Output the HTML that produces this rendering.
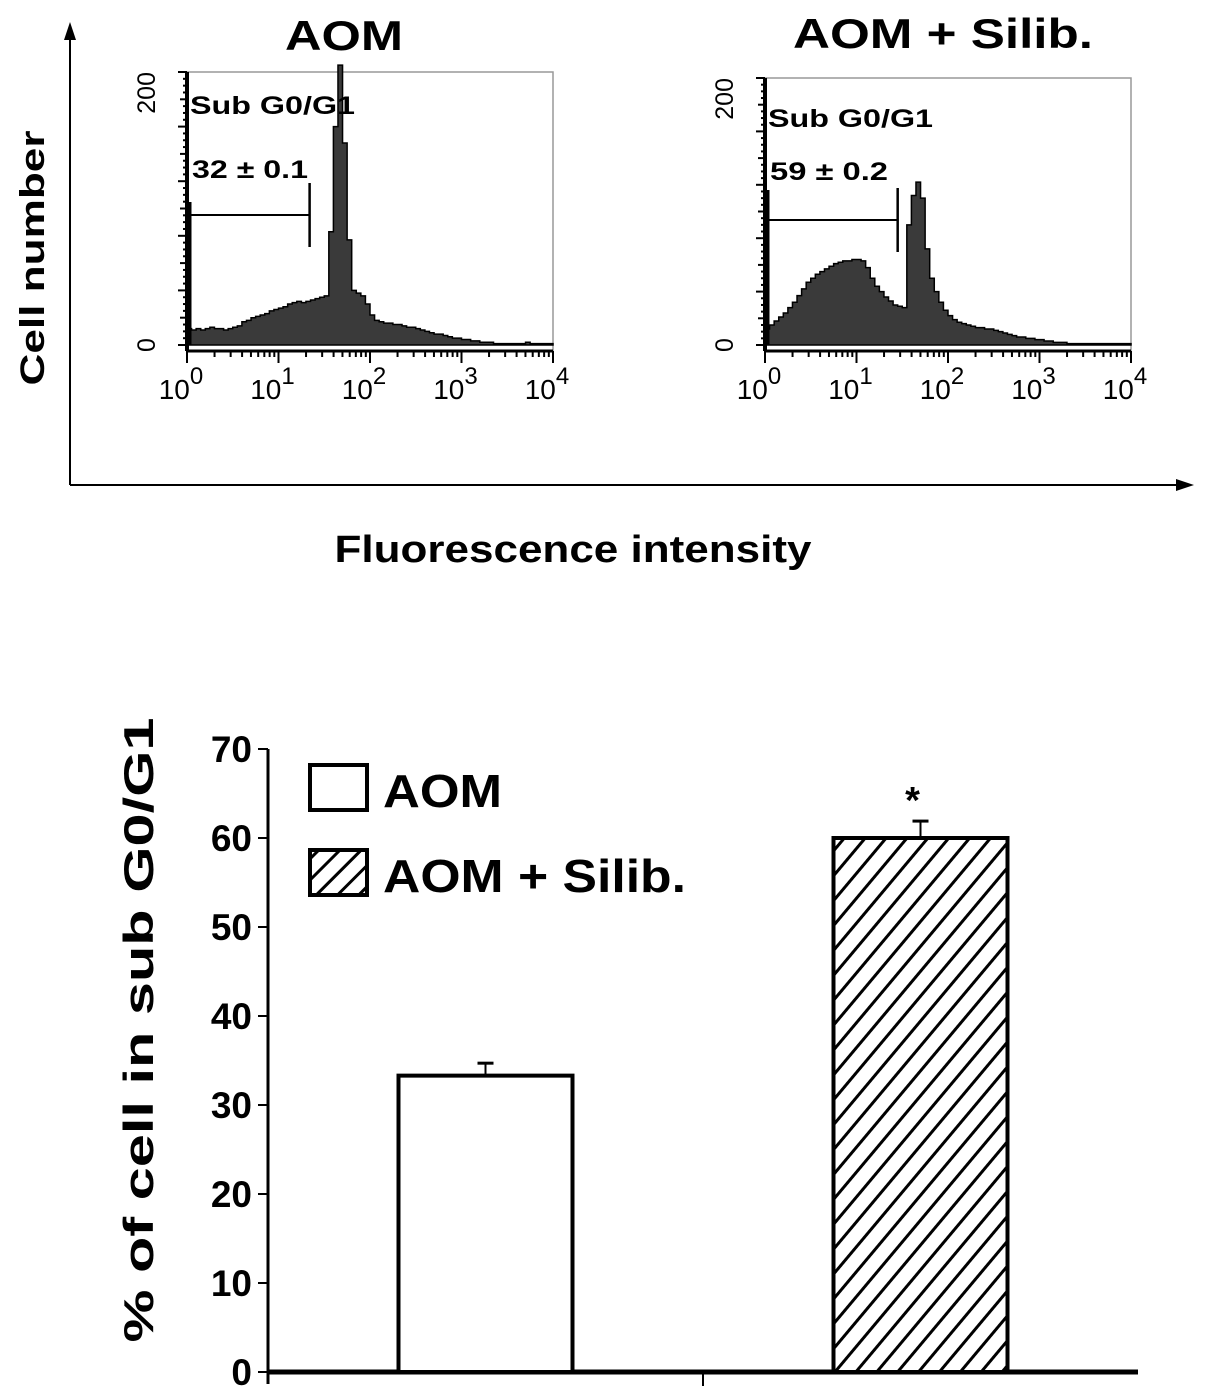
<!DOCTYPE html>
<html><head><meta charset="utf-8"><style>
body{margin:0;background:#fff}
svg{display:block;font-family:"Liberation Sans",Arial,sans-serif}
</style></head><body>
<svg id="fig" width="1205" height="1396" viewBox="0 0 1205 1396" xmlns="http://www.w3.org/2000/svg">
<defs>
<pattern id="hatch" patternUnits="userSpaceOnUse" width="16" height="16" patternTransform="rotate(40)">
<rect width="16" height="16" fill="#fff"/><line x1="0" y1="0" x2="0" y2="16" stroke="#000" stroke-width="6"/>
</pattern>
<pattern id="hatchL" patternUnits="userSpaceOnUse" width="15" height="15" patternTransform="rotate(45)">
<rect width="15" height="15" fill="#fff"/><line x1="0" y1="0" x2="0" y2="15" stroke="#000" stroke-width="6"/>
</pattern>
</defs>
<g id="top">
<line x1="70" y1="485" x2="70" y2="32" stroke="#000" stroke-width="2"/>
<polygon points="70,22 64,40 76,40" fill="#000"/>
<line x1="70" y1="485" x2="1180" y2="485" stroke="#000" stroke-width="2"/>
<polygon points="1194,485 1176,479 1176,491" fill="#000"/>
<text x="0" y="0" transform="translate(44,258) rotate(-90)" text-anchor="middle" font-size="34" font-weight="bold" textLength="255" lengthAdjust="spacingAndGlyphs">Cell number</text>
<text x="573" y="562" text-anchor="middle" font-size="38" font-weight="bold" textLength="477" lengthAdjust="spacingAndGlyphs">Fluorescence intensity</text>
<text x="344" y="50" text-anchor="middle" font-size="42" font-weight="bold" textLength="118" lengthAdjust="spacingAndGlyphs">AOM</text>
<text x="943" y="48" text-anchor="middle" font-size="42" font-weight="bold" textLength="300" lengthAdjust="spacingAndGlyphs">AOM + Silib.</text>
</g>
<g id="hists"></g>
<g id="bars"></g>
</svg>
<script>
// Histogram data: counts in log bins of width 0.05 decades from 10^0 to 10^4
const histBinWidth = 0.05;
const histAOM = [12,11,12,11,12,13,12,12,11,12, 13,14,17,18,20,21,22,23,25,26, 27,28,30,31,32,31,32,33,34,35, 36,83,160,205,148,77,40,38,36,30, 22,18,17,16,16,15,15,14,13,13, 12,11,10,9,8,8,7,6,5,5, 4,4,3,3,2,2,2,1,1,1, 1,1,1,1,2,1,1,1,1,1];
const histSilib = [12,15,18,21,24,28,32,37,42,47, 50,53,55,57,59,61,62,63,63,64, 64,63,58,50,44,40,36,33,30,29, 28,90,112,122,110,72,50,40,32,26, 22,19,17,16,15,14,13,13,12,12, 11,10,9,8,7,6,6,5,5,4, 4,3,3,2,2,2,1,1,1,1, 1,1,1,1,1,1,1,1,1,1];
const histYTicks = ["0","200"];
const decadeExps = ["0","1","2","3","4"];
const gateAOM = [0, 1.34];
const gateSilib = [0, 1.45];
const labelsAOM = ["Sub G0/G1","32 ± 0.1"];
const labelsSilib = ["Sub G0/G1","59 ± 0.2"];

// Bar chart data
const barCategories = ["AOM","AOM + Silib."];
const barValues = [33.3, 60.0];
const barErrors = [1.4, 1.9];
const barYTicks = [0,10,20,30,40,50,60,70];

const NS="http://www.w3.org/2000/svg";
function mk(tag, attrs, parent){const e=document.createElementNS(NS,tag);for(const k in attrs)e.setAttribute(k,attrs[k]);parent.appendChild(e);return e;}

function drawHist(g, box, data, gate, labels, key){
  const xs = l => box.x0 + l*(box.x1-box.x0)/4;
  const ys = c => box.base - Math.min(c,205)*(box.base-box.top)/200;
  const grp=mk('g',{},g);
  
  
  const fr=mk('polyline',{points:`${box.x0},${box.top} ${box.x1},${box.top} ${box.x1},${box.bottom}`,fill:'none',stroke:'#999','stroke-width':1.5},grp);
  
  
  let d=`M${xs(0)},${box.base}`;
  data.forEach((c,i)=>{d+=` L${xs(i*histBinWidth)},${ys(c)} L${xs((i+1)*histBinWidth)},${ys(c)}`;});
  d+=` L${xs(4)},${box.base} Z`;
  const p=mk('path',{d:d,fill:'#3a3a3a',stroke:'#000','stroke-width':1.5},grp);
  
  
  const ax=mk('line',{x1:box.x0,y1:box.top,x2:box.x0,y2:box.bottom,stroke:'#000','stroke-width':4},grp);
  
  
  const bx=mk('line',{x1:box.x0,y1:box.bottom,x2:box.x1,y2:box.bottom,stroke:'#000','stroke-width':3},grp);
  
  
  for(let k=0;k<=40;k++){const y=box.base-k*(box.base-box.top)/40;const w=(k%8==0)?9:(k%4==0?7:4);
    mk('line',{x1:box.x0-w,y1:y,x2:box.x0,y2:y,stroke:'#000','stroke-width':2},grp);}
  for(let dd=0;dd<4;dd++){for(let m=1;m<=9;m++){const x=xs(dd+Math.log10(m));const h=m==1?12:6;
    mk('line',{x1:x,y1:box.bottom,x2:x,y2:box.bottom+h,stroke:'#000','stroke-width':2},grp);}}
  mk('line',{x1:xs(4),y1:box.bottom,x2:xs(4),y2:box.bottom+12,stroke:'#000','stroke-width':2},grp);
  histYTicks.forEach((t,i)=>{const y=i==0?box.base:box.top;
    const tx=mk('text',{transform:`translate(${box.x0-32},${y}) rotate(-90)`,'text-anchor':i==0?'middle':'end','font-size':25},grp);
    tx.textContent=t;
    
    });
  decadeExps.forEach((e,i)=>{const t=mk('text',{x:xs(i)-6,y:box.bottom+48,'text-anchor':'middle','font-size':28},grp);
    t.innerHTML=`10<tspan dy="-15" font-size="24">${e}</tspan>`;
    
    });
  mk('line',{x1:box.x0+2,y1:box.gateTop,x2:box.x0+2,y2:box.base,stroke:'#000','stroke-width':5},grp);
  const gl=mk('line',{x1:xs(gate[0]),y1:box.gateY,x2:xs(gate[1]),y2:box.gateY,stroke:'#000','stroke-width':2},grp);
  
  
  mk('line',{x1:xs(gate[1]),y1:box.gateY-32,x2:xs(gate[1]),y2:box.gateY+32,stroke:'#000','stroke-width':2.5},grp);
  labels.forEach((l,i)=>{const t=mk('text',{x:box.x0+(i?5:3),y:box.labY[i],'font-size':25,'font-weight':'bold',textLength:box.labW[i],lengthAdjust:'spacingAndGlyphs'},grp);t.textContent=l;
    
    });
}
const hg=document.getElementById('hists');
drawHist(hg,{x0:187,x1:553,top:72,base:345,bottom:351,gateY:215,gateTop:202,labY:[114,178],labW:[165,116]},histAOM,gateAOM,labelsAOM,'aom');
drawHist(hg,{x0:765,x1:1131,top:78,base:345,bottom:351,gateY:220,gateTop:190,labY:[127,180],labW:[165,118]},histSilib,gateSilib,labelsSilib,'silib');

// Bar chart
const bg=document.getElementById('bars');
const X0=268, X1=1138, Y0=1372, PER=8.9;
const yv=v=>Y0-v*PER;
const bandW=(X1-X0)/2;
const barW=174;
const cx=i=>X0+bandW*(i+0.5);
const ya=mk('line',{x1:X0,y1:yv(70),x2:X0,y2:Y0+12,stroke:'#000','stroke-width':3},bg);


const xa=mk('line',{x1:X0,y1:Y0,x2:X1,y2:Y0,stroke:'#000','stroke-width':5},bg);


mk('line',{x1:X0+bandW,y1:Y0,x2:X0+bandW,y2:Y0+14,stroke:'#000','stroke-width':2},bg);
barYTicks.forEach(v=>{mk('line',{x1:X0-10,y1:yv(v),x2:X0,y2:yv(v),stroke:'#000','stroke-width':2},bg);
  const t=mk('text',{x:X0-16,y:yv(v)+13,'text-anchor':'end','font-size':37,'font-weight':'bold'},bg);t.textContent=v;
  
  });
const yt=mk('text',{transform:'translate(153,1030) rotate(-90)','text-anchor':'middle','font-size':42,'font-weight':'bold',textLength:625,lengthAdjust:'spacingAndGlyphs'},bg);
yt.textContent='% of cell in sub G0/G1';


barValues.forEach((v,i)=>{
  const x=cx(i)-barW/2;
  mk('line',{x1:cx(i),y1:yv(v),x2:cx(i),y2:yv(v+barErrors[i]),stroke:'#000','stroke-width':2},bg);
  mk('line',{x1:cx(i)-8,y1:yv(v+barErrors[i]),x2:cx(i)+8,y2:yv(v+barErrors[i]),stroke:'#000','stroke-width':3},bg);
  const r=mk('rect',{x:x,y:yv(v),width:barW,height:Y0-yv(v),fill:i?'url(#hatch)':'#fff',stroke:'#000','stroke-width':4},bg);
  
  
});
const st=mk('text',{x:cx(1)-8,y:yv(barValues[1]+barErrors[1])-8,'text-anchor':'middle','font-size':38,'font-weight':'bold'},bg);
st.textContent='*';


const legW=[119,303];
barCategories.forEach((c,i)=>{const y=765+i*85;
  const r=mk('rect',{x:310,y:y,width:57,height:45,fill:i?'url(#hatchL)':'#fff',stroke:'#000','stroke-width':4},bg);
  
  
  const t=mk('text',{x:383,y:y+42,'font-size':46,'font-weight':'bold',textLength:legW[i],lengthAdjust:'spacingAndGlyphs'},bg);t.textContent=c;
  
  });
</script>
</body></html>
